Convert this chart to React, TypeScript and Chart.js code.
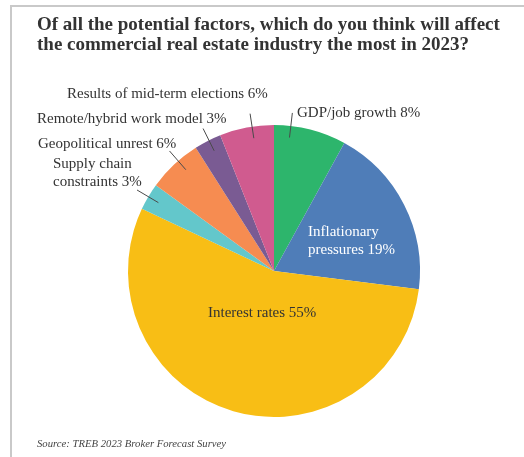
import React, { useEffect, useRef } from "react";
import { Chart, registerables } from "chart.js";

Chart.register(...registerables);

const TITLE_LINES = [
  "Of all the potential factors, which do you think will affect",
  "the commercial real estate industry the most in 2023?",
];
const SOURCE = "Source: TREB 2023 Broker Forecast Survey";

// Clockwise from 12 o'clock
const categories = [
  "GDP/job growth",
  "Inflationary\npressures",
  "Interest rates",
  "Supply chain\nconstraints",
  "Geopolitical unrest",
  "Remote/hybrid work model",
  "Results of mid-term elections",
];
const values = [8, 19, 55, 3, 6, 3, 6];
const colors = ["#2db56c", "#4f7db8", "#f8be15", "#63c7cb", "#f68c51", "#7a5b93", "#d05b8f"];
const labelColors = ["#333333", "#ffffff", "#333333", "#333333", "#333333", "#333333", "#333333"];
// label anchor (first baseline, left aligned) offsets from pie centre
const labelDx = [23, 34, -66, -221, -236, -237, -207];
const labelDy = [-154, -35, 46, -103, -123, -148, -173];
const hasLeader = [true, false, false, true, true, true, true];
const leaderFrac = [0.23, 0.5, 0.5, 0.5, 0.6, 0.55, 0.6];

const FONT = '15px "Liberation Serif", serif';

export default function App() {
  const ref = useRef<HTMLCanvasElement | null>(null);

  useEffect(() => {
    document.body.style.margin = "0";
    const canvas = ref.current;
    if (!canvas) return;

    const labelPlugin = {
      id: "pieLabels",
      afterDatasetsDraw(chart: any) {
        const ctx = chart.ctx;
        const meta = chart.getDatasetMeta(0);
        ctx.save();
        meta.data.forEach((arc: any, i: number) => {
          const { x, y, startAngle, endAngle, outerRadius } = arc.getProps(
            ["x", "y", "startAngle", "endAngle", "outerRadius"],
            true
          );
          if (hasLeader[i]) {
            const a = startAngle + (endAngle - startAngle) * leaderFrac[i];
            const r1 = outerRadius * 0.92;
            const r2 = outerRadius * 1.09;
            ctx.beginPath();
            ctx.moveTo(x + Math.cos(a) * r1, y + Math.sin(a) * r1);
            ctx.lineTo(x + Math.cos(a) * r2, y + Math.sin(a) * r2);
            ctx.strokeStyle = "#4a4a4a";
            ctx.lineWidth = 1;
            ctx.stroke();
          }
          const text = `${categories[i]} ${values[i]}%`;
          const lines = text.split("\n");
          ctx.font = FONT;
          ctx.fillStyle = labelColors[i];
          ctx.textAlign = "left";
          ctx.textBaseline = "alphabetic";
          lines.forEach((ln, k) => {
            ctx.fillText(ln, x + labelDx[i], y + labelDy[i] + k * 17.5);
          });
        });
        ctx.restore();
      },
    };

    const chart = new Chart(canvas, {
      type: "pie",
      data: {
        labels: categories,
        datasets: [
          {
            data: values,
            backgroundColor: colors,
            borderWidth: 0,
          },
        ],
      },
      options: {
        animation: false,
        responsive: false,
        layout: { padding: { left: 128, right: 104, top: 125, bottom: 40 } },
        plugins: {
          legend: { display: false },
          tooltip: { enabled: false },
          title: { display: false },
        },
      },
      plugins: [labelPlugin],
    });
    return () => chart.destroy();
  }, []);

  return (
    <div
      style={{
        position: "relative",
        width: 524,
        height: 457,
        overflow: "hidden",
        background: "#ffffff",
      }}
    >
      <div
        style={{
          position: "absolute",
          left: 10,
          top: 5,
          width: 700,
          height: 700,
          borderTop: "2px solid #c9c9c9",
          borderLeft: "2px solid #c9c9c9",
        }}
      />
      <canvas
        ref={ref}
        width={524}
        height={457}
        style={{ position: "absolute", left: 0, top: 0 }}
      />
      <div
        style={{
          position: "absolute",
          left: 37,
          top: 14,
          fontFamily: '"Liberation Serif", serif',
          fontWeight: 700,
          fontSize: 19,
          lineHeight: "20px",
          color: "#333333",
          whiteSpace: "nowrap",
        }}
      >
        {TITLE_LINES.map((t, i) => (
          <div key={i}>{t}</div>
        ))}
      </div>
      <div
        style={{
          position: "absolute",
          left: 37,
          top: 437,
          fontFamily: '"Liberation Serif", serif',
          fontStyle: "italic",
          fontSize: 10.7,
          lineHeight: "13px",
          color: "#444444",
          whiteSpace: "nowrap",
        }}
      >
        {SOURCE}
      </div>
    </div>
  );
}
